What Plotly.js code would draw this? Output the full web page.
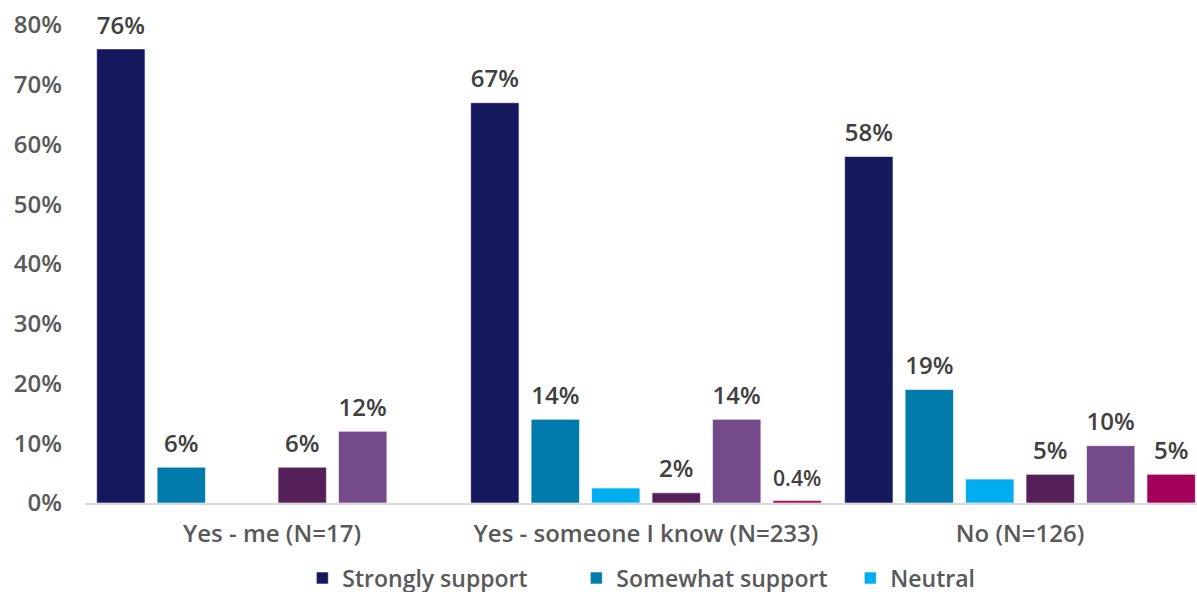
<!DOCTYPE html>
<html>
<head>
<meta charset="utf-8">
<script src="https://cdn.plot.ly/plotly-3.0.1.min.js"></script>
<style>
html,body{margin:0;padding:0;overflow:hidden;background:#fff;}
#chart{width:1212px;height:612px;}
</style>
</head>
<body>
<div id="chart"></div>
<script>
const categories = ["Yes - me (N=17)", "Yes - someone I know (N=233)", "No (N=126)"];
const seriesNames = ["Strongly support", "Somewhat support", "Neutral", "Somewhat oppose", "Strongly oppose", "Don't know"];
const stronglySupport = [76, 67, 58];
const somewhatSupport = [6, 14, 19];
const neutral = [0, 2.5, 4];
const somewhatOppose = [6, 1.7, 4.8];
const stronglyOppose = [12, 14, 9.6];
const dontKnow = [0, 0.4, 4.8];
const stronglySupportLabels = ["76%", "67%", "58%"];
const somewhatSupportLabels = ["6%", "14%", "19%"];
const neutralLabels = ["", "", ""];
const somewhatOpposeLabels = ["6%", "2%", "5%"];
const stronglyOpposeLabels = ["12%", "14%", "10%"];
const dontKnowLabels = ["", "0.4%", "5%"];
const showInLegend = [true, true, true, false, false, false];

const colors = ["#16185e", "#007bab", "#00aeef", "#55205a", "#744a8b", "#a2005a"];
const values = [stronglySupport, somewhatSupport, neutral, somewhatOppose, stronglyOppose, dontKnow];
const labels = [stronglySupportLabels, somewhatSupportLabels, neutralLabels, somewhatOpposeLabels, stronglyOpposeLabels, dontKnowLabels];

const FONT = "Open Sans, Noto Sans, sans-serif";
const LABEL_GAP = 0.9; // gap (in axis units) between bar top and its value label

const traces = [];
seriesNames.forEach((name, i) => {
  traces.push({
    type: "bar",
    name: name,
    x: categories,
    y: values[i],
    offsetgroup: "g" + i,
    marker: {color: colors[i], line: {color: "rgba(255,255,255,0.6)", width: 1}},
    showlegend: showInLegend[i],
    hoverinfo: "skip"
  });
});
seriesNames.forEach((name, i) => {
  traces.push({
    type: "bar",
    name: name + " label",
    x: categories,
    base: values[i],
    y: values[i].map(() => LABEL_GAP),
    offsetgroup: "g" + i,
    marker: {color: "rgba(0,0,0,0)", line: {width: 0}},
    text: labels[i],
    texttemplate: "%{text}",
    textposition: "outside",
    cliponaxis: false,
    textfont: {family: FONT, size: 24, color: "#404040", weight: 600},
    showlegend: false,
    hoverinfo: "skip"
  });
});

const layout = {
  width: 1212,
  height: 612,
  margin: {l: 85, r: 5, t: 25, b: 109},
  barmode: "group",
  bargap: 0.03,
  bargroupgap: 0.2,
  plot_bgcolor: "#fff",
  paper_bgcolor: "#fff",
  font: {family: FONT, color: "#595959"},
  xaxis: {
    showline: true,
    linecolor: "#d9d9d9",
    linewidth: 2,
    ticks: "",
    ticklabelstandoff: 8,
    tickfont: {family: FONT, size: 24, color: "#595959", weight: 600},
    showgrid: false
  },
  yaxis: {
    range: [0, 80],
    dtick: 10,
    ticksuffix: "%",
    showgrid: false,
    zeroline: false,
    showline: false,
    ticks: "",
    ticklabelstandoff: 22,
    tickfont: {family: FONT, size: 24, color: "#595959", weight: 600}
  },
  legend: {
    orientation: "h",
    x: 0.56,
    xanchor: "center",
    y: -0.157,
    yanchor: "middle",
    entrywidth: 229,
    font: {family: FONT, size: 23, color: "#595959", weight: 600},
    traceorder: "normal"
  }
};

Plotly.newPlot("chart", traces, layout, {staticPlot: true, displayModeBar: false});
</script>
</body>
</html>
